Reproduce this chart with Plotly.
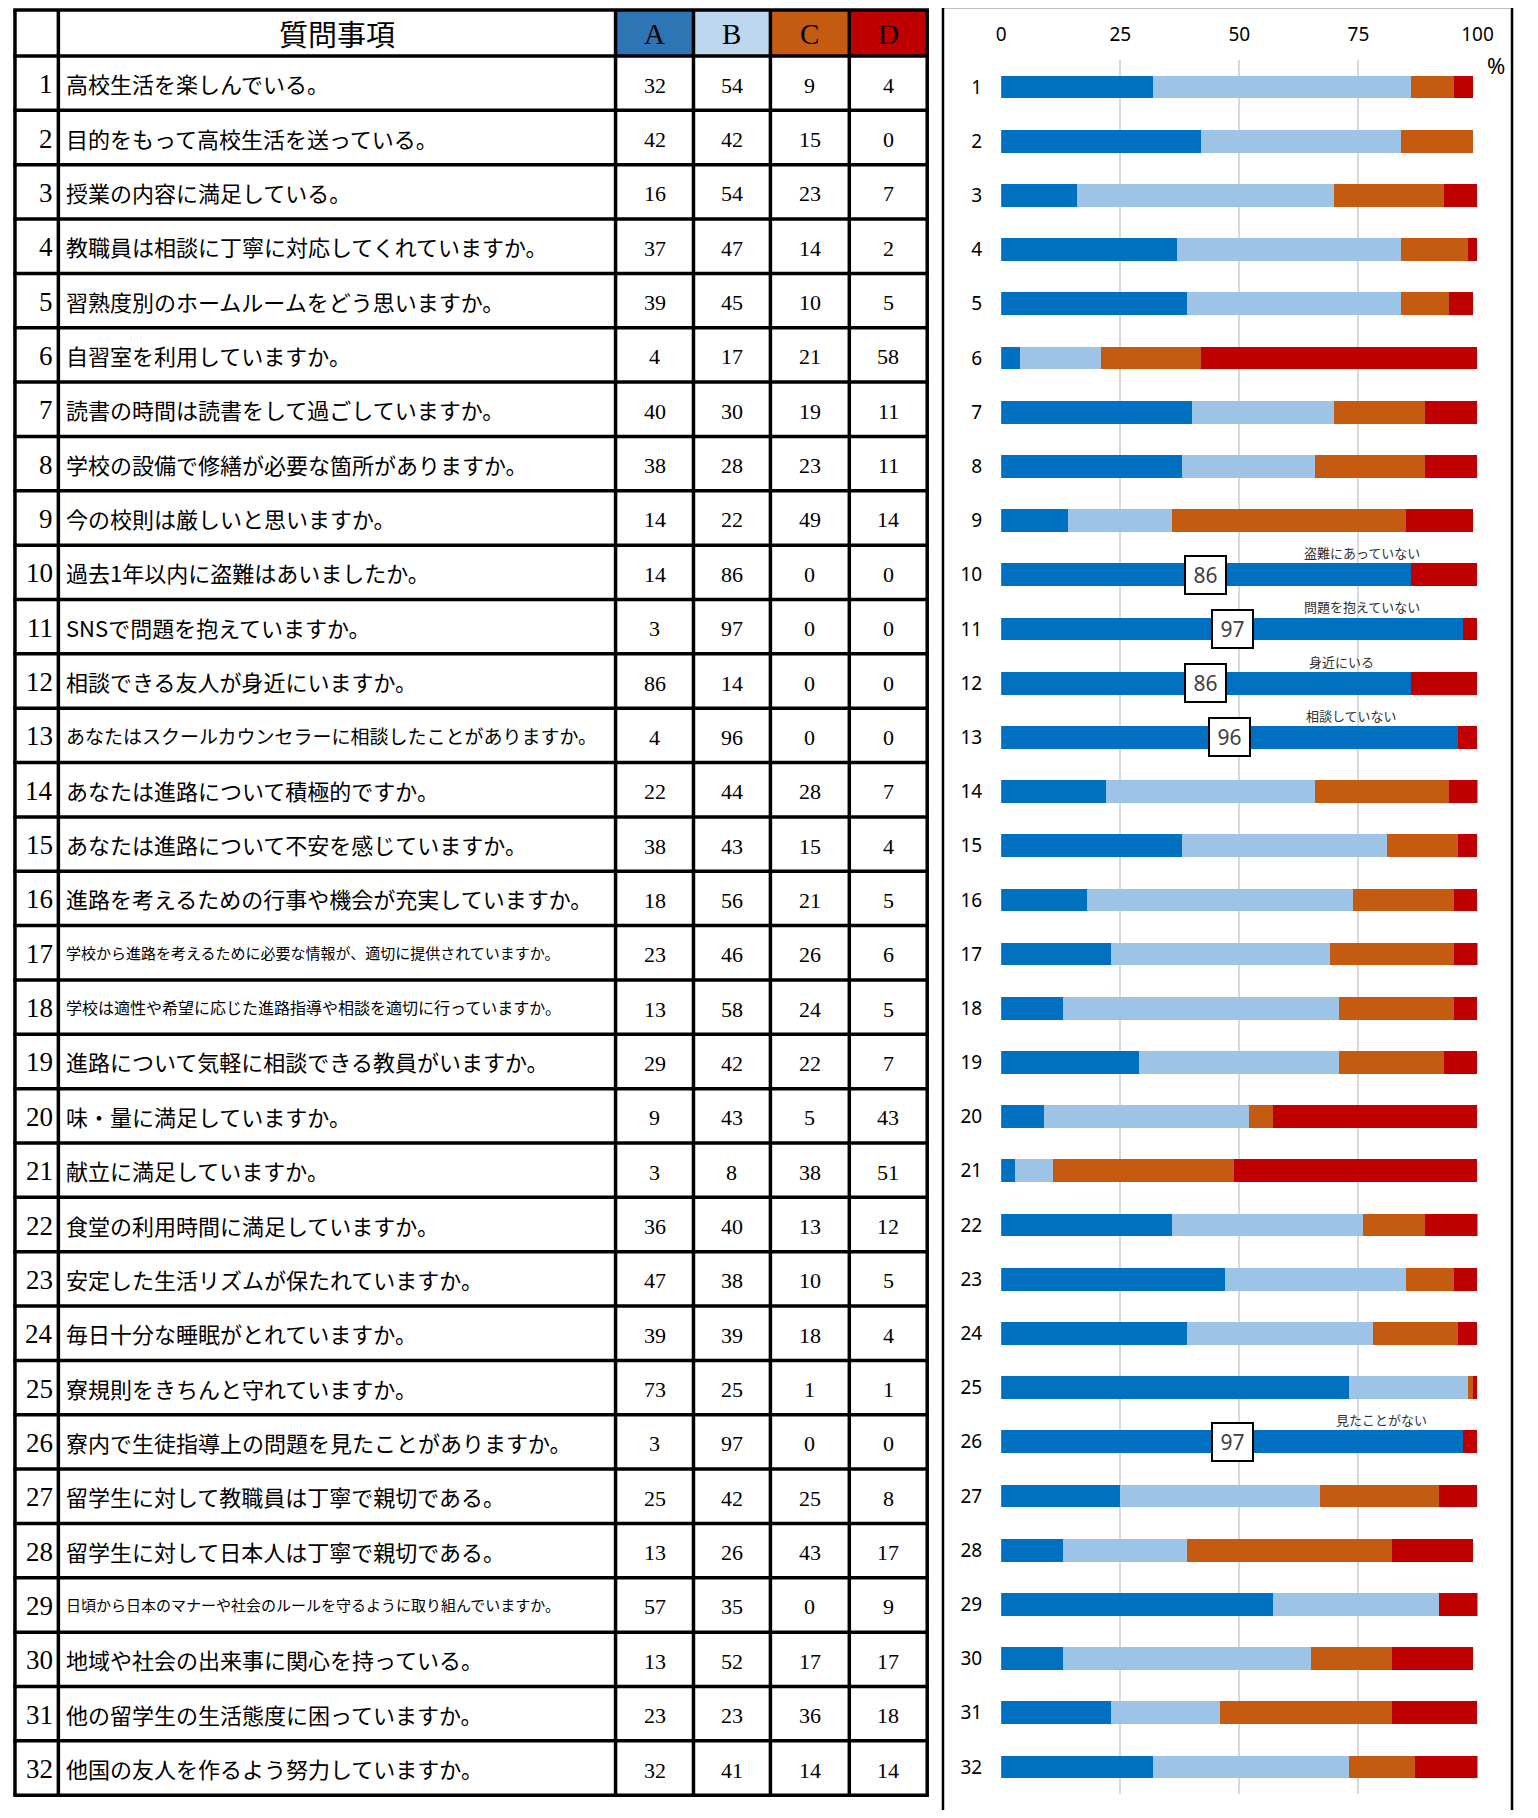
import plotly.graph_objects as go

PAGE_W, PAGE_H = 1538, 1818
OFF = 8  # default body margin of the page
W, H = PAGE_W - 2 * OFF, PAGE_H - 2 * OFF

# ---------------- data ----------------
rows = list(range(1, 33))
row_labels = [str(r) for r in rows]
questions = [
    "高校生活を楽しんでいる。",
    "目的をもって高校生活を送っている。",
    "授業の内容に満足している。",
    "教職員は相談に丁寧に対応してくれていますか。",
    "習熟度別のホームルームをどう思いますか。",
    "自習室を利用していますか。",
    "読書の時間は読書をして過ごしていますか。",
    "学校の設備で修繕が必要な箇所がありますか。",
    "今の校則は厳しいと思いますか。",
    "過去1年以内に盗難はあいましたか。",
    "SNSで問題を抱えていますか。",
    "相談できる友人が身近にいますか。",
    "あなたはスクールカウンセラーに相談したことがありますか。",
    "あなたは進路について積極的ですか。",
    "あなたは進路について不安を感じていますか。",
    "進路を考えるための行事や機会が充実していますか。",
    "学校から進路を考えるために必要な情報が、適切に提供されていますか。",
    "学校は適性や希望に応じた進路指導や相談を適切に行っていますか。",
    "進路について気軽に相談できる教員がいますか。",
    "味・量に満足していますか。",
    "献立に満足していますか。",
    "食堂の利用時間に満足していますか。",
    "安定した生活リズムが保たれていますか。",
    "毎日十分な睡眠がとれていますか。",
    "寮規則をきちんと守れていますか。",
    "寮内で生徒指導上の問題を見たことがありますか。",
    "留学生に対して教職員は丁寧で親切である。",
    "留学生に対して日本人は丁寧で親切である。",
    "日頃から日本のマナーや社会のルールを守るように取り組んでいますか。",
    "地域や社会の出来事に関心を持っている。",
    "他の留学生の生活態度に困っていますか。",
    "他国の友人を作るよう努力していますか。",
]
header_title = "質問事項"
series_names = ["A", "B", "C", "D"]

table_a = [32, 42, 16, 37, 39, 4, 40, 38, 14, 14, 3, 86, 4, 22, 38, 18, 23, 13, 29, 9, 3, 36, 47, 39, 73, 3, 25, 13, 57, 13, 23, 32]
table_b = [54, 42, 54, 47, 45, 17, 30, 28, 22, 86, 97, 14, 96, 44, 43, 56, 46, 58, 42, 43, 8, 40, 38, 39, 25, 97, 42, 26, 35, 52, 23, 41]
table_c = [9, 15, 23, 14, 10, 21, 19, 23, 49, 0, 0, 0, 0, 28, 15, 21, 26, 24, 22, 5, 38, 13, 10, 18, 1, 0, 25, 43, 0, 17, 36, 14]
table_d = [4, 0, 7, 2, 5, 58, 11, 11, 14, 0, 0, 0, 0, 7, 4, 5, 6, 5, 7, 43, 51, 12, 5, 4, 1, 0, 8, 17, 9, 17, 18, 14]

chart_a = [32, 42, 16, 37, 39, 4, 40, 38, 14, 86, 97, 86, 96, 22, 38, 18, 23, 13, 29, 9, 3, 36, 47, 39, 73, 97, 25, 13, 57, 13, 23, 32]
chart_b = [54, 42, 54, 47, 45, 17, 30, 28, 22, 0, 0, 0, 0, 44, 43, 56, 46, 58, 42, 43, 8, 40, 38, 39, 25, 0, 42, 26, 35, 52, 23, 41]
chart_c = [9, 15, 23, 14, 10, 21, 19, 23, 49, 0, 0, 0, 0, 28, 15, 21, 26, 24, 22, 5, 38, 13, 10, 18, 1, 0, 25, 43, 0, 17, 36, 14]
chart_d = [4, 0, 7, 2, 5, 58, 11, 11, 14, 14, 3, 14, 4, 7, 4, 5, 6, 5, 7, 43, 51, 12, 5, 4, 1, 3, 8, 17, 9, 17, 18, 14]

note_rows = [10, 11, 12, 13, 26]
note_texts = ["盗難にあっていない", "問題を抱えていない", "身近にいる", "相談していない", "見たことがない"]
note_x = [75.8, 75.8, 71.4, 73.6, 79.8]

x_ticks = [0, 25, 50, 75, 100]

# ---------------- styles ----------------
col_colors = ["#0070C0", "#9DC3E6", "#C55A11", "#C00000"]
head_colors = ["#2E75B6", "#BDD7EE", "#C55A11", "#C00000"]
q_font_sizes = {13: 19, 17: 15, 18: 16, 29: 15}

def PX(x):  # page pixel -> paper fraction
    return (x - OFF) / W

def PY(y):
    return 1 - (y - OFF) / H

fig = go.Figure()
for name, vals, col in zip(series_names, [chart_a, chart_b, chart_c, chart_d], col_colors):
    fig.add_trace(go.Bar(
        y=rows, x=vals, orientation="h", name=name,
        marker=dict(color=col, line=dict(width=0)), width=0.42,
        hoverinfo="skip",
    ))

shapes = []
annotations = []

# table geometry (page pixels)
tx = [10, 54, 619, 698, 776, 856, 935]
t_top, t_head, row_h = 10, 56, 54.35
LW = 3.5

for i, c in enumerate(head_colors):
    shapes.append(dict(type="rect", xref="paper", yref="paper",
                       x0=PX(tx[2 + i]), x1=PX(tx[3 + i]), y0=PY(t_top), y1=PY(t_head),
                       fillcolor=c, line=dict(width=0), layer="below"))
ys = [t_top] + [t_head + k * row_h for k in range(33)]
for y in ys:
    shapes.append(dict(type="line", xref="paper", yref="paper",
                       x0=PX(tx[0] - LW / 2), x1=PX(tx[-1] + LW / 2), y0=PY(y), y1=PY(y),
                       line=dict(color="black", width=LW)))
for x in tx:
    shapes.append(dict(type="line", xref="paper", yref="paper",
                       x0=PX(x), x1=PX(x), y0=PY(t_top), y1=PY(ys[-1]),
                       line=dict(color="black", width=LW)))

shapes.append(dict(type="rect", xref="paper", yref="paper",
                   x0=PX(951), x1=PX(1528), y0=PY(7), y1=PY(1840),
                   line=dict(color="black", width=2.5), fillcolor="rgba(0,0,0,0)"))

serif = "Liberation Serif"
cjk = "Noto Sans CJK JP"

annotations.append(dict(xref="paper", yref="paper", x=PX((tx[1] + tx[2]) / 2), y=PY((t_top + t_head) / 2),
                        text=header_title, showarrow=False, font=dict(family=cjk, size=29, color="black"),
                        xanchor="center", yanchor="middle"))
for i, n in enumerate(series_names):
    annotations.append(dict(xref="paper", yref="paper", x=PX((tx[2 + i] + tx[3 + i]) / 2),
                            y=PY((t_top + t_head) / 2 + 1), text=n, showarrow=False,
                            font=dict(family=serif, size=29, color="black"),
                            xanchor="center", yanchor="middle"))

for k, r in enumerate(rows):
    yc = t_head + (k + 0.5) * row_h
    annotations.append(dict(xref="paper", yref="paper", x=PX(tx[1] - 3), y=PY(yc + 1),
                            text=row_labels[k], showarrow=False,
                            font=dict(family=serif, size=27, color="black"),
                            xanchor="right", yanchor="middle"))
    annotations.append(dict(xref="paper", yref="paper", x=PX(60), y=PY(yc),
                            text=questions[k], showarrow=False,
                            font=dict(family=cjk, size=q_font_sizes.get(r, 22), color="black"),
                            xanchor="left", yanchor="middle"))
    for i, vals in enumerate([table_a, table_b, table_c, table_d]):
        annotations.append(dict(xref="paper", yref="paper", x=PX((tx[2 + i] + tx[3 + i]) / 2), y=PY(yc + 2),
                                text=str(vals[k]), showarrow=False,
                                font=dict(family=serif, size=22, color="black"),
                                xanchor="center", yanchor="middle"))

for r, t, nx in zip(note_rows, note_texts, note_x):
    v = chart_a[r - 1]
    annotations.append(dict(xref="x", yref="y", x=v / 2, y=r, text=str(v), showarrow=False,
                            font=dict(family="Noto Sans", size=21, color="#404040"),
                            bgcolor="white", bordercolor="black", borderwidth=2, borderpad=3,
                            width=33, height=30, xanchor="center", yanchor="middle"))
    annotations.append(dict(xref="x", yref="y", x=nx, y=r, yshift=22, text=t, showarrow=False,
                            font=dict(family=cjk, size=13, color="#303030"),
                            xanchor="center", yanchor="middle"))

annotations.append(dict(xref="paper", yref="paper", x=PX(1512), y=PY(65), text="%", showarrow=False,
                        font=dict(family="Noto Sans", size=22, color="black"),
                        xanchor="center", yanchor="middle"))

fig.update_layout(
    width=W, height=H, margin=dict(l=0, r=0, t=0, b=0),
    paper_bgcolor="white", plot_bgcolor="white",
    barmode="stack", showlegend=False, bargap=0,
    shapes=shapes, annotations=annotations,
    xaxis=dict(domain=[PX(1010), PX(1493)], range=[0, 100], side="top",
               tickvals=x_ticks, ticktext=[str(t) for t in x_ticks],
               showgrid=True, gridcolor="#D9D9D9", gridwidth=1.5, zeroline=False,
               showline=False, ticks="", ticklabelstandoff=14,
               tickfont=dict(family="Noto Sans", size=19, color="black"), fixedrange=True),
    yaxis=dict(domain=[PY(1794), PY(60)], range=[32.5, 0.5],
               tickvals=rows, ticktext=row_labels, showgrid=False, zeroline=False,
               showline=False, ticks="", ticklabelstandoff=18,
               tickfont=dict(family="Noto Sans", size=19, color="black"), fixedrange=True),
)

fig.write_html("out.html", config={"displayModeBar": False})
